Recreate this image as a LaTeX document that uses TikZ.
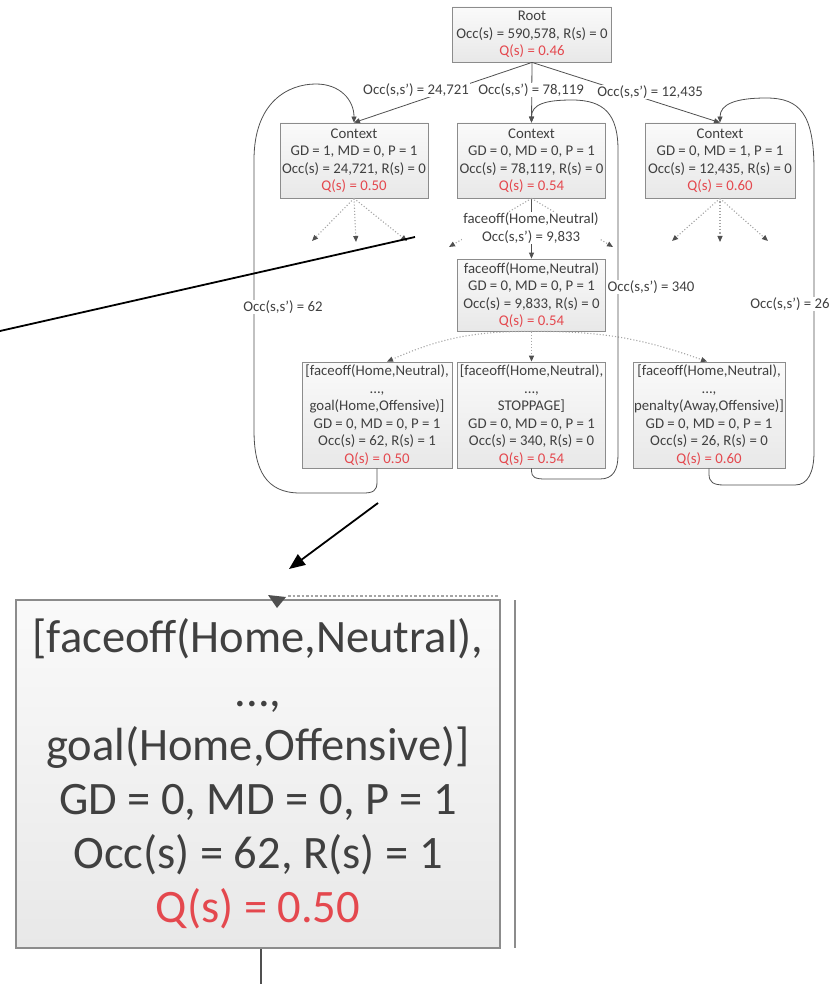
\documentclass[tikz,border=0pt]{standalone}
\usepackage{fontspec}
\setmainfont{Carlito}
\usepackage{xcolor}
\usepackage{tikz}
\usetikzlibrary{arrows.meta}
\definecolor{txt}{RGB}{64,64,64}
\definecolor{qred}{RGB}{228,72,78}
\definecolor{boxline}{RGB}{140,140,140}
\definecolor{boxtop}{RGB}{250,250,250}
\definecolor{boxbot}{RGB}{232,232,232}
\definecolor{edgecol}{RGB}{80,80,80}
\definecolor{dotcol}{RGB}{165,165,165}
\newcommand{\qval}[1]{\textcolor{qred}{Q(s) = #1}}

\begin{document}
\begin{tikzpicture}[x=1pt, y=1pt,
  every node/.style={font=\fontsize{14.8}{17.5}\selectfont, text=txt},
  statebox/.style={draw=boxline, line width=0.8pt, top color=boxtop, bottom color=boxbot, align=center, inner sep=0pt},
  occlabel/.style={fill=white, inner sep=1pt, align=center},
  link/.style={draw=edgecol, line width=0.8pt, -{Triangle[length=6pt,width=5pt]}},
  hint/.style={draw=dotcol, line width=1.1pt, dotted, -{Triangle[length=6pt,width=5pt,color=edgecol]}},
  loopback/.style={draw=edgecol, line width=0.8pt, -{Triangle[length=6pt,width=5pt]}},
  callout/.style={draw=black, line width=1.8pt}]
  \useasboundingbox (0,0) rectangle (836,-984);

  % states of the tree
  \node[statebox, minimum width=159pt, minimum height=55pt] (root) at (532,-34.5)
    {Root\\Occ(s) = 590,578, R(s) = 0\\\qval{0.46}};
  \node[statebox, minimum width=148pt, minimum height=75pt] (ctxL) at (354,-160.5)
    {Context\\GD = 1, MD = 0, P = 1\\Occ(s) = 24,721, R(s) = 0\\\qval{0.50}};
  \node[statebox, minimum width=148pt, minimum height=75pt] (ctxM) at (531.5,-160.5)
    {Context\\GD = 0, MD = 0, P = 1\\Occ(s) = 78,119, R(s) = 0\\\qval{0.54}};
  \node[statebox, minimum width=150pt, minimum height=75pt] (ctxR) at (720,-160.5)
    {Context\\GD = 0, MD = 1, P = 1\\Occ(s) = 12,435, R(s) = 0\\\qval{0.60}};
  \node[statebox, minimum width=148pt, minimum height=72pt] (face) at (531.5,-295)
    {faceoff(Home,Neutral)\\GD = 0, MD = 0, P = 1\\Occ(s) = 9,833, R(s) = 0\\\qval{0.54}};
  \node[statebox, minimum width=150pt, minimum height=106pt] (leafL) at (377,-415)
    {[faceoff(Home,Neutral),\\...,\\goal(Home,Offensive)]\\GD = 0, MD = 0, P = 1\\Occ(s) = 62, R(s) = 1\\\qval{0.50}};
  \node[statebox, minimum width=148pt, minimum height=106pt] (leafM) at (531.5,-415)
    {[faceoff(Home,Neutral),\\...,\\STOPPAGE]\\GD = 0, MD = 0, P = 1\\Occ(s) = 340, R(s) = 0\\\qval{0.54}};
  \node[statebox, minimum width=152pt, minimum height=106pt] (leafR) at (709,-415)
    {[faceoff(Home,Neutral),\\...,\\penalty(Away,Offensive)]\\GD = 0, MD = 0, P = 1\\Occ(s) = 26, R(s) = 0\\\qval{0.60}};

  % root to contexts
  \draw[link] (root.south) -- (ctxL.north);
  \draw[link] (root.south) -- (ctxM.north);
  \draw[link] (root.south) -- (ctxR.north);
  \draw[link] (ctxM.south) -- (face.north);

  % unexpanded children
  \coordinate (hL1) at (312,-241);
  \coordinate (hL2) at (356,-242);
  \coordinate (hL3) at (407,-241);
  \coordinate (hM1) at (449,-247);
  \coordinate (hM2) at (613,-247);
  \coordinate (hR1) at (672,-241);
  \coordinate (hR2) at (720,-242);
  \coordinate (hR3) at (768,-241);
  \draw[hint] (ctxL.south) -- (hL1);
  \draw[hint] (ctxL.south) -- (hL2);
  \draw[hint] (ctxL.south) -- (hL3);
  \draw[hint] (ctxM.south) -- (hM1);
  \draw[hint] (ctxM.south) -- (hM2);
  \draw[hint] (ctxR.south) -- (hR1);
  \draw[hint] (ctxR.south) -- (hR2);
  \draw[hint] (ctxR.south) -- (hR3);
  \draw[hint] (face.south) to[bend right=12] ([xshift=10pt]leafL.north);
  \draw[hint] (face.south) -- (leafM.north);
  \draw[hint] (face.south) to[bend left=10] ([xshift=-2pt]leafR.north);

  % edge labels
  \node[occlabel] (lbl24721) at (416,-90) {Occ(s,s') = 24,721};
  \node[occlabel] (lbl78119) at (531,-90) {Occ(s,s') = 78,119};
  \node[occlabel] (lbl12435) at (650,-92) {Occ(s,s') = 12,435};
  \node[occlabel] (lblFace) at (531,-228) {faceoff(Home,Neutral)\\Occ(s,s') = 9,833};

  % back to the context
  \draw[loopback] (leafL.south) -- (377,-482) .. controls (377,-491) and (373,-493) .. (363,-493)
    -- (300,-493) .. controls (266,-493) and (254,-470) .. (254,-430) -- (254,-160)
    .. controls (254,-102) and (288,-84) .. (316,-84) .. controls (340,-84) and (354,-100) .. (ctxL.north);
  \draw[loopback] (leafM.south) -- (531.5,-471) .. controls (531.5,-477) and (535,-479) .. (545,-479)
    -- (600,-479) .. controls (613,-479) and (618,-470) .. (618,-455) -- (618,-150)
    .. controls (618,-114) and (604,-100) .. (572,-100) .. controls (546,-100) and (531.5,-104) .. (ctxM.north);
  \draw[loopback] (leafR.south) -- (709,-474) .. controls (709,-482) and (713,-485) .. (724,-485)
    -- (795,-485) .. controls (808,-485) and (814,-472) .. (814,-452) -- (814,-170)
    .. controls (814,-114) and (800,-98) .. (766,-98) .. controls (736,-98) and (720,-104) .. (ctxR.north);
  \node[occlabel] (lbl62) at (283,-307) {Occ(s,s') = 62};
  \node[occlabel] (lbl340) at (651,-287) {Occ(s,s') = 340};
  \node[occlabel] (lbl26) at (790,-304) {Occ(s,s') = 26};

  % magnified leaf
  \node[statebox, line width=2.5pt, minimum width=484pt, minimum height=348pt,
    font=\fontsize{46.5}{54}\selectfont] (zoomBox) at (258,-774)
    {[faceoff(Home,Neutral),\\...,\\goal(Home,Offensive)]\\GD = 0, MD = 0, P = 1\\Occ(s) = 62, R(s) = 1\\\qval{0.50}};
  \coordinate (nextTop) at (515,-600);
  \coordinate (nextBot) at (515,-948);
  \draw[boxline, line width=2.5pt] (nextTop) -- (nextBot);
  \coordinate (dotsA) at (288,-596);
  \coordinate (dotsB) at (498,-596);
  \draw[dotcol, line width=2.5pt, dotted] (dotsA) -- (dotsB);
  \fill[edgecol] (268,-595) -- (286,-597) -- (277,-608) -- cycle;
  \coordinate (stubEnd) at (261,-984);
  \draw[edgecol, line width=2.2pt] ([xshift=3pt]zoomBox.south) -- (stubEnd);

  % pointers
  \coordinate (penA) at (0,-331);
  \coordinate (penB) at (415,-237);
  \draw[callout] (penA) -- (penB);
  \coordinate (arrA) at (378,-503);
  \coordinate (arrB) at (289,-569);
  \draw[callout, -{Triangle[length=16pt,width=13pt]}] (arrA) -- (arrB);
\end{tikzpicture}
\end{document}
